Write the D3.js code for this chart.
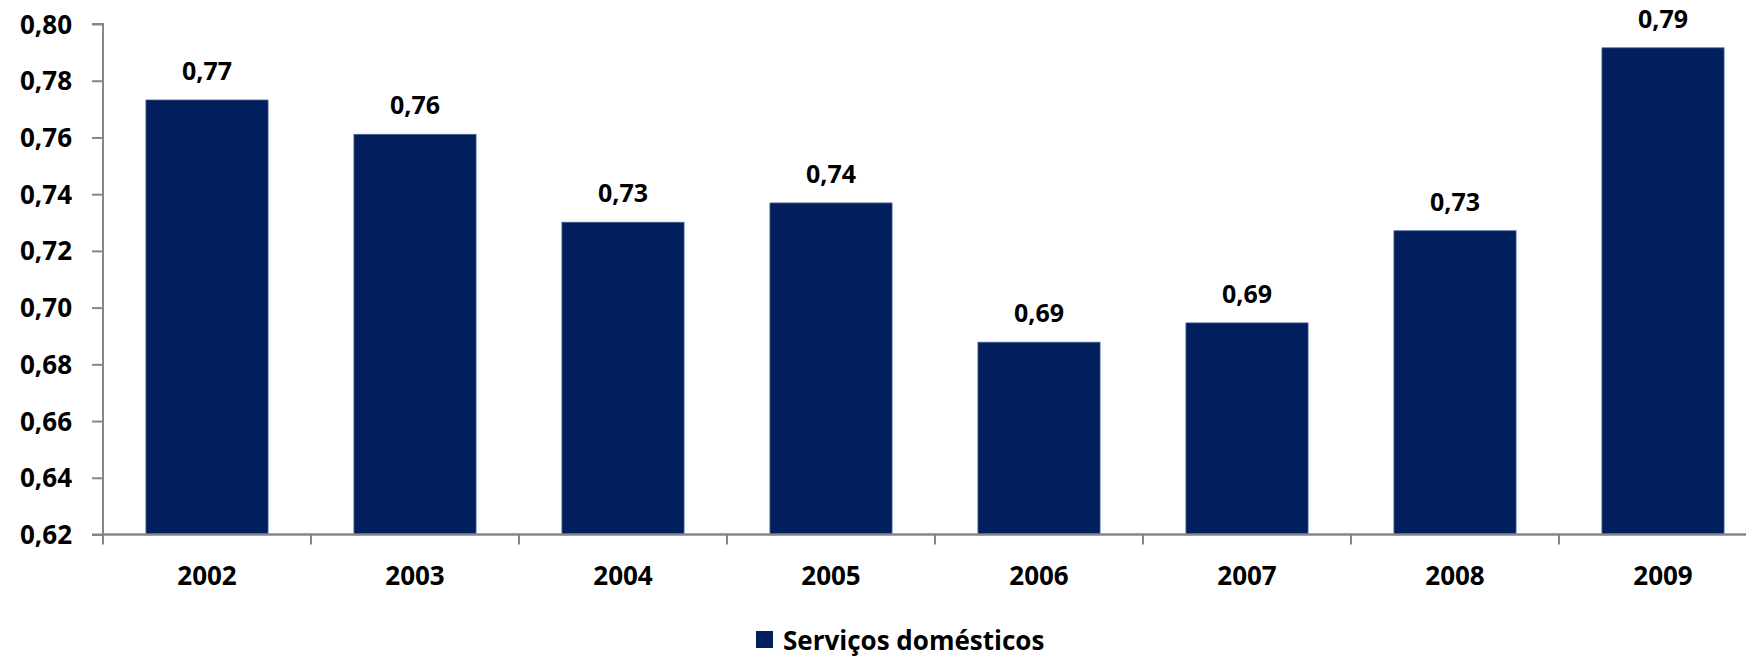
<!DOCTYPE html>
<html><head><meta charset="utf-8">
<script src="https://cdn.jsdelivr.net/npm/d3@7"></script>
<style>
html,body{margin:0;padding:0;background:#fff;overflow:hidden}
text{font-family:"Open Sans",Lato,sans-serif;font-weight:bold;fill:#000}
</style></head>
<body>
<svg id="chart" width="1746" height="657"></svg>
<script>
const categories = ["2002","2003","2004","2005","2006","2007","2008","2009"];
const values = [0.7732, 0.7611, 0.7301, 0.7369, 0.6878, 0.6946, 0.7271, 0.7916];
const labels = ["0,77","0,76","0,73","0,74","0,69","0,69","0,73","0,79"];
const yTicks = [0.62,0.64,0.66,0.68,0.70,0.72,0.74,0.76,0.78,0.80];
const seriesName = "Serviços domésticos";

(function(){
const svg = d3.select("#chart");
const mLeft = 103, mTop = 24, mBottom = 534.5, mRight = 1767;
const x = d3.scaleBand().domain(categories).range([mLeft, mRight]).paddingInner(0.413).paddingOuter(0.2065);
const y = d3.scaleLinear().domain([0.62, 0.80]).range([mBottom, mTop]);
const color = "#001F5C";

svg.selectAll("rect.bar").data(values).join("rect")
  .attr("class","bar")
  .attr("x",(d,i)=>x(categories[i]))
  .attr("width",x.bandwidth())
  .attr("y",d=>y(d))
  .attr("height",d=>y(0.62)-y(d))
  .attr("fill",color)
  .attr("stroke","#4a6190").attr("stroke-width",0.8);

svg.selectAll("text.val").data(values).join("text")
  .attr("class","val")
  .attr("x",(d,i)=>x(categories[i])+x.bandwidth()/2)
  .attr("y",d=>y(d)-20)
  .attr("text-anchor","middle")
  .style("font-size","25px")
  .text((d,i)=>labels[i]);

// Y axis
const yAxis = d3.axisLeft(y).tickValues(yTicks).tickSize(11).tickPadding(20)
  .tickFormat(d=>d3.format(".2f")(d).replace(".",","));
const gy = svg.append("g").attr("transform",`translate(${mLeft},0)`).call(yAxis);
gy.select(".domain").attr("stroke","#868686").attr("stroke-width",2).attr("d",`M-11,${mTop}H0V${mBottom}H-11`);
gy.selectAll(".tick line").attr("stroke","#868686").attr("stroke-width",2);
gy.selectAll(".tick text").style("font-size","26px").attr("dy","0.35em").attr("fill","#000");

// X axis
const xb = d3.scaleLinear().domain([0, categories.length]).range([mLeft, mRight]);
const gx = svg.append("g").attr("transform",`translate(0,${mBottom})`);
gx.append("line").attr("x1",mLeft).attr("x2",mRight).attr("stroke","#868686").attr("stroke-width",2.5);
gx.selectAll("line.t").data(d3.range(categories.length+1)).join("line")
  .attr("class","t").attr("x1",d=>xb(d)).attr("x2",d=>xb(d)).attr("y1",0).attr("y2",10)
  .attr("stroke","#868686").attr("stroke-width",2);
gx.selectAll("text").data(categories).join("text")
  .attr("x",d=>x(d)+x.bandwidth()/2).attr("y",50)
  .attr("text-anchor","middle").style("font-size","26px").text(d=>d);

// Legend
const lg = svg.append("g");
lg.append("rect").attr("x",756).attr("y",631).attr("width",17).attr("height",17).attr("fill",color);
lg.append("text").attr("x",783).attr("y",650).style("font-size","26px").text(seriesName);
})();
</script>
</body></html>
